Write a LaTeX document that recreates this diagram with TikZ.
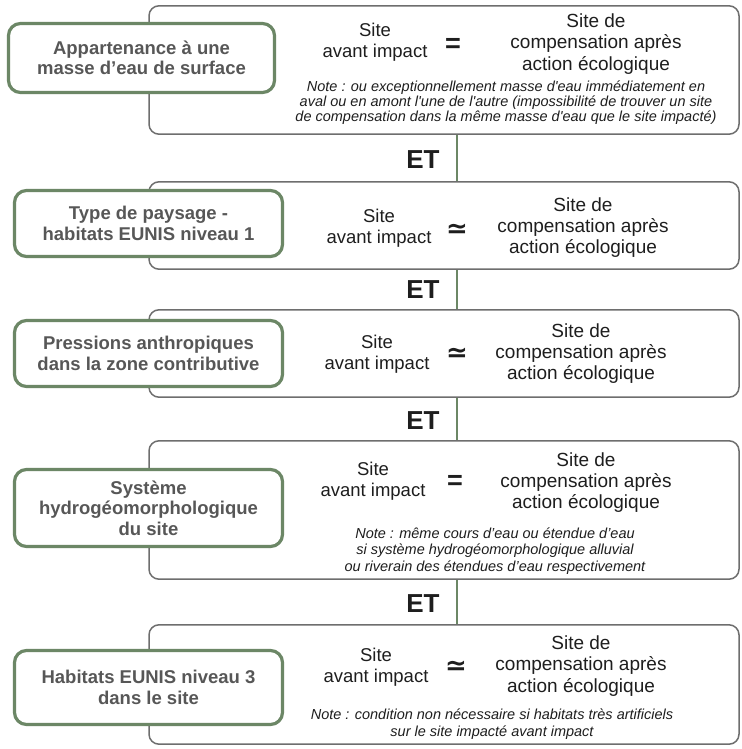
\documentclass[tikz,border=0pt]{standalone}
\usepackage{fontspec}
\setmainfont{Liberation Sans}
\newfontfamily\notefont{Liberation Sans}[Ligatures=TeXOff]
\newfontfamily\symfont{DejaVu Sans}
\definecolor{grayline}{HTML}{6E6E6E}
\definecolor{greenline}{HTML}{6C8766}
\definecolor{boxtext}{HTML}{575757}
\definecolor{maintext}{HTML}{1E1E1E}
\definecolor{ettext}{HTML}{1E1E1E}
\begin{document}
\begin{tikzpicture}[x=1pt,y=-1pt,
  graybox/.style={draw=grayline, line width=1.5pt, rounded corners=10pt, fill=white, minimum width=590pt, inner sep=0pt},
  greenbox/.style={draw=greenline, line width=3.2pt, rounded corners=12pt, fill=white, inner sep=2pt, align=center, font=\fontsize{18.5}{20.5}\selectfont\bfseries, text=boxtext},
  sitetxt/.style={align=center, font=\fontsize{18.5}{21}\selectfont, text=maintext, inner sep=0pt},
  comptxt/.style={align=center, font=\fontsize{19}{21.3}\selectfont, text=maintext, inner sep=0pt},
  notetxt/.style={align=center, font=\notefont\fontsize{14.5}{15}\selectfont\itshape, text=maintext, inner sep=0pt},
  ettxt/.style={font=\fontsize{26}{26}\selectfont\bfseries, text=ettext, inner sep=0pt},
  eqsym/.style={font=\fontsize{27}{27}\selectfont\bfseries, text=maintext, inner sep=0pt},
  apsym/.style={font=\symfont\fontsize{26}{26}\selectfont\bfseries, text=maintext, inner sep=0pt},
  etline/.style={draw=greenline, line width=1.6pt}
]
\useasboundingbox[fill=white] (0,0) rectangle (741,749);

% gray boxes
\node[graybox, minimum height=128.4pt] (g1) at (444,70) {};
\node[graybox, minimum height=87.4pt] (g2) at (444,225.5) {};
\node[graybox, minimum height=87.4pt] (g3) at (444,353.5) {};
\node[graybox, minimum height=138.4pt] (g4) at (444,510) {};
\node[graybox, minimum height=119.4pt] (g5) at (444,684.5) {};

% green boxes
\node[greenbox, minimum width=266pt, minimum height=69pt] (b1) at (141.5,58) {Appartenance à une\\masse d’eau de surface};
\node[greenbox, minimum width=268pt, minimum height=66pt] (b2) at (148.5,223.5) {Type de paysage -\\habitats EUNIS niveau 1};
\node[greenbox, minimum width=268pt, minimum height=66pt] (b3) at (148.5,353.5) {Pressions anthropiques\\dans la zone contributive};
\node[greenbox, minimum width=268pt, minimum height=77pt] (b4) at (148.5,508) {Système\\hydrogéomorphologique\\du site};
\node[greenbox, minimum width=268pt, minimum height=74pt] (b5) at (148.5,687.5) {Habitats EUNIS niveau 3\\dans le site};

% ET connectors
\coordinate (etx) at (457,0);
\draw[etline] (g1.south -| etx) -- (g2.north -| etx);
\draw[etline] (g2.south -| etx) -- (g3.north -| etx);
\draw[etline] (g3.south -| etx) -- (g4.north -| etx);
\draw[etline] (g4.south -| etx) -- (g5.north -| etx);
\node[ettxt] (et1) at (423,160) {ET};
\node[ettxt] (et2) at (423,290) {ET};
\node[ettxt] (et3) at (423,421) {ET};
\node[ettxt] (et4) at (423,604) {ET};

% row 1
\node[sitetxt] (s1) at (375,42.5) {Site\\avant impact};
\node[eqsym] (q1) at (453,45) {=};
\node[comptxt] (c1) at (596,44) {Site de\\compensation après\\action écologique};
\node[notetxt] (n1) at (506,103) {Note : ou exceptionnellement masse d'eau immédiatement en\\aval ou en amont l'une de l'autre (impossibilité de trouver un site\\de compensation dans la même masse d'eau que le site impacté)};

% row 2
\node[sitetxt] (s2) at (379,228) {Site\\avant impact};
\node[apsym] (q2) at (457,231) {≃};
\node[comptxt] (c2) at (583,227.7) {Site de\\compensation après\\action écologique};

% row 3
\node[sitetxt] (s3) at (377,354) {Site\\avant impact};
\node[apsym] (q3) at (457,355) {≃};
\node[comptxt] (c3) at (581,353.7) {Site de\\compensation après\\action écologique};

% row 4
\node[sitetxt] (s4) at (373,481.5) {Site\\avant impact};
\node[eqsym] (q4) at (455,482) {=};
\node[comptxt] (c4) at (586,482.5) {Site de\\compensation après\\action écologique};
\node[notetxt, font=\notefont\fontsize{14.5}{16.5}\selectfont\itshape] (n4) at (495,551) {Note : même cours d’eau ou étendue d’eau\\si système hydrogéomorphologique alluvial\\ou riverain des étendues d’eau respectivement};

% row 5
\node[sitetxt] (s5) at (376,667) {Site\\avant impact};
\node[apsym] (q5) at (456,668) {≃};
\node[comptxt] (c5) at (581,666) {Site de\\compensation après\\action écologique};
\node[notetxt, font=\notefont\fontsize{14.5}{17.5}\selectfont\itshape] (n5) at (492,724) {Note : condition non nécessaire si habitats très artificiels\\sur le site impacté avant impact};
\end{tikzpicture}
\end{document}
